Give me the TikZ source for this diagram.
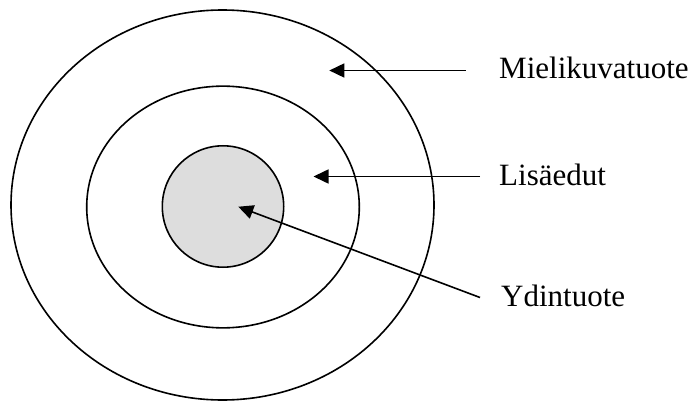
\documentclass[tikz,border=0pt]{standalone}
\usepackage{fontspec}
\setmainfont{Liberation Serif}
\usetikzlibrary{shapes.geometric,arrows.meta}
\begin{document}
\begin{tikzpicture}[x=1pt,y=-1pt,
  ring/.style={draw=black,line width=1.6pt,ellipse,inner sep=0pt},
  pointer/.style={draw=black,line width=1.6pt,-{Triangle[length=15pt,width=14pt]}},
  label/.style={anchor=base west,inner sep=0pt,font=\fontsize{31}{36}\selectfont}]
  \useasboundingbox (0,0) rectangle (696,401);
  % concentric product layers
  \node[ring,minimum width=423pt,minimum height=390pt] (outer) at (222.5,205) {};
  \node[ring,minimum width=272.6pt,minimum height=241.7pt] (middle) at (223,207) {};
  \node[ring,fill={rgb,255:red,221;green,221;blue,221},minimum width=121.4pt,minimum height=121.4pt] (core) at (223,206.5) {};
  % labels
  \node[label] (mielikuva) at (499,79) {Mielikuvatuote};
  \node[label] (lisa) at (499,185) {Lisäedut};
  \node[label] (ydin) at (501,306) {Ydintuote};
  % arrow ends
  \coordinate (mStart) at (465.7,70.5);
  \coordinate (mTip) at (329.3,70.5);
  \coordinate (lStart) at (480,176.5);
  \coordinate (lTip) at (313.5,176.5);
  \coordinate (yStart) at (480,297.5);
  \coordinate (yTip) at (238.3,206.7);
  \draw[pointer] (mStart) -- (mTip);
  \draw[pointer] (lStart) -- (lTip);
  \draw[pointer] (yStart) -- (yTip);
\end{tikzpicture}
\end{document}
